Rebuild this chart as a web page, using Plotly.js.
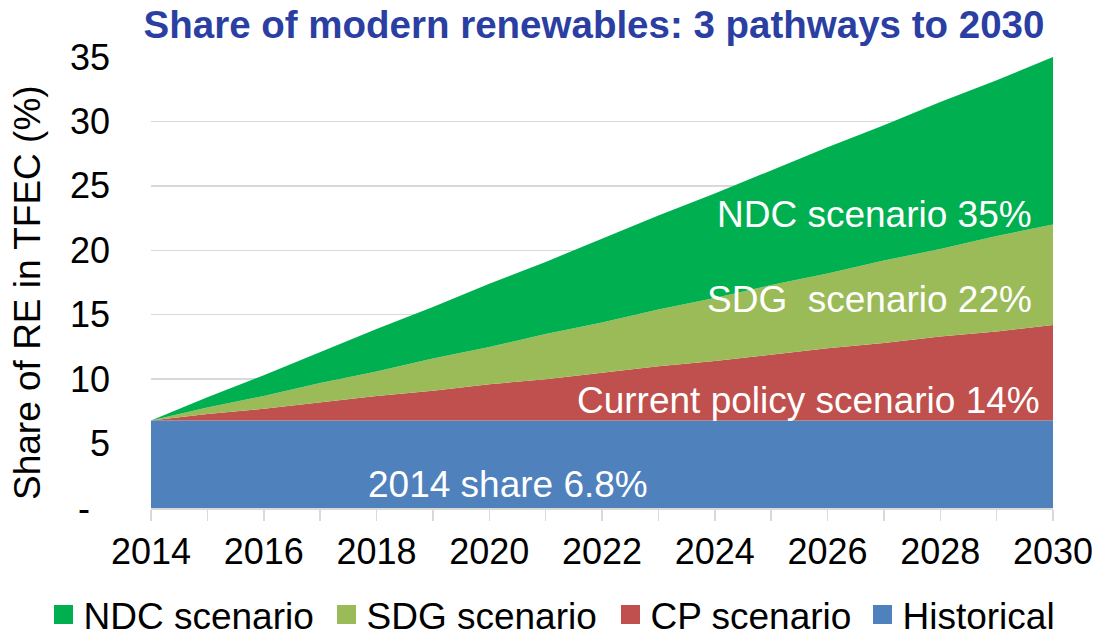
<!DOCTYPE html>
<html>
<head>
<meta charset="utf-8">
<script src="https://cdn.plot.ly/plotly-3.0.1.min.js"></script>
<style>
  html, body { margin: 0; padding: 0; background: #ffffff; }
  #chart { width: 1097px; height: 633px; }
</style>
</head>
<body>
<div id="chart"></div>
<script>
// ---- data ----
const years = [2014, 2015, 2016, 2017, 2018, 2019, 2020, 2021, 2022, 2023, 2024, 2025, 2026, 2027, 2028, 2029, 2030];
const historical = [6.8, 6.8, 6.8, 6.8, 6.8, 6.8, 6.8, 6.8, 6.8, 6.8, 6.8, 6.8, 6.8, 6.8, 6.8, 6.8, 6.8];
const cpScenario = [6.8, 7.3, 7.7, 8.2, 8.7, 9.1, 9.6, 10.0, 10.5, 11.0, 11.4, 11.9, 12.4, 12.8, 13.3, 13.7, 14.2];
const sdgScenario = [6.8, 7.8, 8.7, 9.7, 10.6, 11.6, 12.5, 13.5, 14.4, 15.4, 16.3, 17.3, 18.2, 19.2, 20.1, 21.1, 22.0];
const ndcScenario = [6.8, 8.6, 10.3, 12.1, 13.9, 15.6, 17.4, 19.1, 20.9, 22.7, 24.4, 26.2, 28.0, 29.7, 31.5, 33.2, 35.0];
const xTickYears = [2014, 2016, 2018, 2020, 2022, 2024, 2026, 2028, 2030];
const yTickVals = [0, 5, 10, 15, 20, 25, 30, 35];
const yTickText = ['-\u00a0\u00a0', '5', '10', '15', '20', '25', '30', '35'];
const seriesNames = ['NDC scenario', 'SDG scenario', 'CP scenario', 'Historical'];
const chartTitle = 'Share of modern renewables: 3 pathways to 2030';
const yTitle = 'Share of RE in TFEC (%)';
const labels = ['NDC scenario 35%', 'SDG\u00a0\u00a0scenario 22%', 'Current policy scenario 14%', '2014 share 6.8%'];

const FONT = 'Arial, "Liberation Sans", sans-serif';
const colors = { ndc: '#00B050', sdg: '#9BBB59', cp: '#C0504D', hist: '#4F81BD' };

function area(y, color, fill) {
  return { x: years, y: y, type: 'scatter', mode: 'lines', fill: fill,
    fillcolor: color, line: { width: 0, color: color }, showlegend: false, hoverinfo: 'skip' };
}
function legendItem(name, color, legendId) {
  return { x: [null], y: [null], type: 'scatter', mode: 'markers', name: name, legend: legendId,
    marker: { symbol: 'square', size: 16, color: color, line: { width: 3, color: color } } };
}

const data = [
  area(historical, colors.hist, 'tozeroy'),
  area(cpScenario, colors.cp, 'tonexty'),
  area(sdgScenario, colors.sdg, 'tonexty'),
  area(ndcScenario, colors.ndc, 'tonexty'),
  legendItem(seriesNames[0], colors.ndc, 'legend'),
  legendItem(seriesNames[1], colors.sdg, 'legend2'),
  legendItem(seriesNames[2], colors.cp, 'legend3'),
  legendItem(seriesNames[3], colors.hist, 'legend4')
];

function legendAt(px) {
  return { orientation: 'h', x: (px - 20) / 1097, xanchor: 'left', xref: 'container',
    y: 1 - 615 / 633, yanchor: 'middle', yref: 'container', traceorder: 'normal',
    font: { family: FONT, size: 37, color: '#000000' }, bgcolor: 'rgba(0,0,0,0)', borderwidth: 0 };
}

const annFont = { family: FONT, size: 37, color: '#ffffff' };
const layout = {
  width: 1097, height: 633,
  margin: { l: 151, r: 44, t: 57, b: 125 },
  paper_bgcolor: '#ffffff', plot_bgcolor: '#ffffff',
  font: { family: FONT, size: 36, color: '#000000' },
  title: { text: '<b>' + chartTitle + '</b>', font: { family: FONT, size: 38.5, color: '#2B3FA3' },
    x: 594 / 1097, xanchor: 'center', y: 1 - 25 / 633, yanchor: 'middle', xref: 'container', yref: 'container' },
  xaxis: {
    range: [2014, 2030], tickvals: xTickYears, ticktext: xTickYears.map(String),
    ticks: 'outside', ticklen: 11, tickwidth: 1.5, tickcolor: '#d9d9d9',
    minor: { dtick: 1, tick0: 2014, ticks: 'outside', ticklen: 11, tickwidth: 1.5, tickcolor: '#d9d9d9', showgrid: false },
    showline: true, linecolor: '#d9d9d9', linewidth: 1.5, showgrid: false, zeroline: false,
    tickfont: { family: FONT, size: 36, color: '#000000' }, ticklabelstandoff: 0, fixedrange: true
  },
  yaxis: {
    range: [0, 35], tickvals: yTickVals, ticktext: yTickText,
    showgrid: true, gridcolor: '#d9d9d9', gridwidth: 1.5, zeroline: false, showline: false,
    ticks: '', ticklabelstandoff: 40,
    tickfont: { family: FONT, size: 36, color: '#000000' },
    fixedrange: true
  },
  legend: legendAt(63.5),
  legend2: legendAt(346.5),
  legend3: legendAt(630.5),
  legend4: legendAt(882.5),
  annotations: [
    { text: yTitle, xref: 'paper', yref: 'paper', x: (27 - 151) / 902, y: (508 - 293) / 451, xanchor: 'center', yanchor: 'middle',
      textangle: -90, showarrow: false, font: { family: FONT, size: 37, color: '#000000' } },
    { text: labels[0], xref: 'paper', yref: 'paper', x: 0.9789, y: 0.6497, xanchor: 'right', yanchor: 'middle', showarrow: false, font: annFont },
    { text: labels[1], xref: 'paper', yref: 'paper', x: 0.9789, y: 0.4634, xanchor: 'right', yanchor: 'middle', showarrow: false, font: annFont },
    { text: labels[2], xref: 'paper', yref: 'paper', x: 0.9878, y: 0.2373, xanchor: 'right', yanchor: 'middle', showarrow: false, font: annFont },
    { text: labels[3], xref: 'paper', yref: 'paper', x: 0.3958, y: 0.051, xanchor: 'center', yanchor: 'middle', showarrow: false, font: annFont }
  ]
};

Plotly.newPlot('chart', data, layout, { displayModeBar: false, staticPlot: true });
</script>
</body>
</html>
